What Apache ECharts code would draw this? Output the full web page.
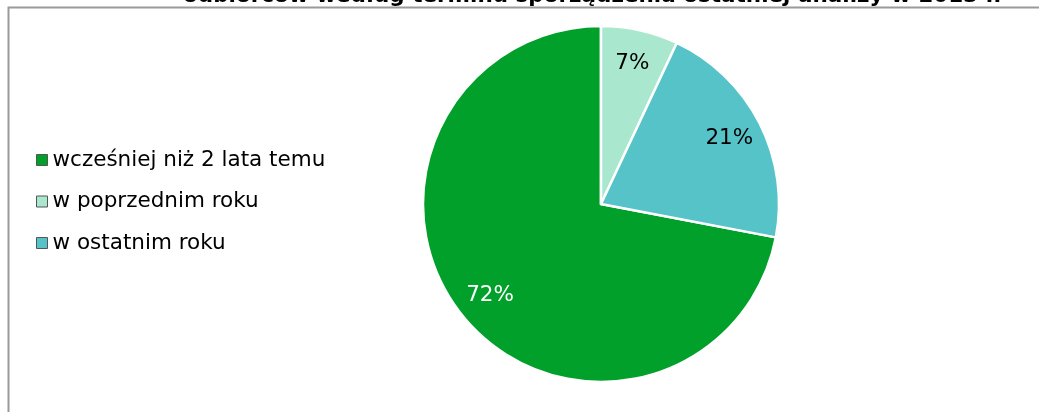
<!DOCTYPE html>
<html>
<head>
<meta charset="utf-8">
<script src="https://cdn.jsdelivr.net/npm/echarts@6/dist/echarts.min.js"></script>
<style>
html,body{margin:0;padding:0;background:#fff;}
#c{width:1039px;height:412px;}
</style>
</head>
<body>
<div id="c"></div>
<script>
const titleText = 'odbiorców według terminu sporządzenia ostatniej analizy w 2013 r.';
const categories = ['wcześniej niż 2 lata temu', 'w poprzednim roku', 'w ostatnim roku'];
const values = [72, 7, 21];
const colors = ['#00a02a', '#a9e8cf', '#55c3c8'];
const labelColors = ['#ffffff', '#000000', '#000000'];

const font = 'DejaVu Sans, Verdana, sans-serif';
const total = values.reduce((a, b) => a + b, 0);
// first slice ends at 12 o'clock (clockwise drawing)
const startAngle = 90 + values[0] / total * 360;

const chart = echarts.init(document.getElementById('c'), null, {renderer: 'canvas'});
chart.setOption({
  animation: false,
  color: colors,
  title: {
    text: titleText,
    left: 183,
    top: -15,
    padding: 0,
    textStyle: {fontFamily: font, fontSize: 21.5, fontWeight: 'bold', color: '#000'}
  },
  graphic: [{
    type: 'polyline',
    silent: true,
    shape: {points: [[8.5, 420], [8.5, 7.5], [1045, 7.5]]},
    style: {stroke: '#9a9a9a', lineWidth: 2, fill: null}
  }],
  legend: {
    orient: 'vertical',
    left: 36,
    top: 149,
    padding: 0,
    itemWidth: 11,
    itemHeight: 11,
    itemGap: 19.5,
    data: categories,
    icon: 'rect',
    itemStyle: {borderColor: '#555', borderWidth: 1},
    textStyle: {fontFamily: font, fontSize: 21.5, color: '#000', padding: [0, 0, 0, 0]}
  },
  series: [{
    type: 'pie',
    center: [601, 204],
    radius: [0, 178],
    startAngle: startAngle,
    clockwise: true,
    silent: true,
    itemStyle: {borderColor: '#fff', borderWidth: 2.5},
    label: {show: false},
    labelLine: {show: false},
    data: categories.map((n, i) => ({name: n, value: values[i]}))
  }, {
    type: 'pie',
    center: [601, 204],
    radius: [104, 178],
    startAngle: startAngle,
    clockwise: true,
    silent: true,
    legendHoverLink: false,
    itemStyle: {color: 'rgba(0,0,0,0)', borderWidth: 0},
    label: {
      show: true,
      position: 'inside',
      fontFamily: font,
      fontSize: 21.5,
      formatter: p => Math.round(p.percent) + '%'
    },
    labelLine: {show: false},
    data: categories.map((n, i) => ({name: n, value: values[i], label: {color: labelColors[i]}}))
  }]
});
</script>
</body>
</html>
